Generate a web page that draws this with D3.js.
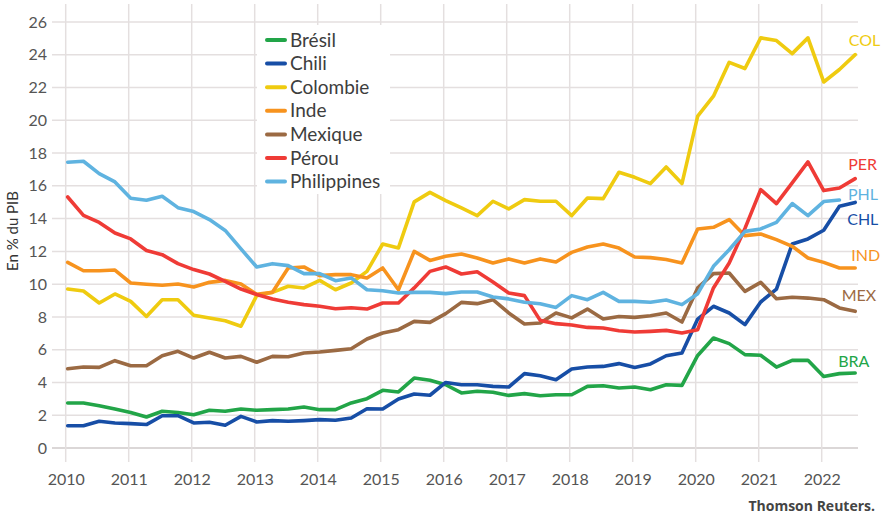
<!DOCTYPE html>
<html>
<head>
<meta charset="utf-8">
<script src="https://cdn.jsdelivr.net/npm/d3@7"></script>
<style>
body { margin: 0; background: #fff; }
#chart { width: 883px; height: 516px; }
text { font-family: Lato, "Open Sans", sans-serif; }
</style>
</head>
<body>
<div id="chart"></div>
<script>
// quarterly data, 2010 T1 -> 2022 T3 (en % du PIB)
var years = [2010, 2011, 2012, 2013, 2014, 2015, 2016, 2017, 2018, 2019, 2020, 2021, 2022];
var yTicks = [0, 2, 4, 6, 8, 10, 12, 14, 16, 18, 20, 22, 24, 26];
var countries = ["Brésil", "Chili", "Colombie", "Inde", "Mexique", "Pérou", "Philippines"];
var codes = ["BRA", "CHL", "COL", "IND", "MEX", "PER", "PHL"];
var colors = ["#22a548", "#174ea6", "#efcb10", "#f7931e", "#9b6a43", "#ef3b36", "#5fb3e0"];

var bresil = [2.75, 2.75, 2.58, 2.38, 2.17, 1.89, 2.24, 2.17, 2.03, 2.3,
    2.24, 2.38, 2.3, 2.34, 2.38, 2.5, 2.34, 2.34, 2.75, 3.01,
    3.52, 3.42, 4.27, 4.13, 3.86, 3.36, 3.46, 3.4, 3.21, 3.32,
    3.19, 3.25, 3.25, 3.76, 3.8, 3.66, 3.72, 3.56, 3.86, 3.82,
    5.65, 6.71, 6.37, 5.7, 5.66, 4.94, 5.35, 5.35, 4.37, 4.54, 4.58];
var chili = [1.36, 1.36, 1.63, 1.53, 1.49, 1.43, 1.97, 1.97, 1.53, 1.57,
    1.39, 1.93, 1.59, 1.67, 1.63, 1.67, 1.73, 1.69, 1.83, 2.4,
    2.38, 2.99, 3.3, 3.22, 4.0, 3.86, 3.86, 3.76, 3.72, 4.54,
    4.41, 4.17, 4.82, 4.94, 4.98, 5.15, 4.92, 5.13, 5.63, 5.8,
    7.87, 8.65, 8.24, 7.53, 8.91, 9.7, 12.45, 12.76, 13.29, 14.75, 14.99];
var colombie = [9.7, 9.58, 8.85, 9.4, 8.95, 8.03, 9.05, 9.05, 8.1, 7.94,
    7.77, 7.43, 9.3, 9.5, 9.87, 9.77, 10.23, 9.66, 10.07, 10.78,
    12.45, 12.21, 15.02, 15.6, 15.1, 14.65, 14.18, 15.06, 14.59, 15.16,
    15.06, 15.06, 14.18, 15.26, 15.22, 16.83, 16.52, 16.14, 17.15, 16.14,
    20.25, 21.47, 23.54, 23.16, 25.03, 24.87, 24.07, 25.03, 22.34, 23.1, 24.01];
var inde = [11.33, 10.82, 10.82, 10.86, 10.07, 9.99, 9.93, 10.01, 9.83, 10.11,
    10.23, 10.01, 9.38, 9.5, 10.99, 11.05, 10.52, 10.58, 10.58, 10.38,
    10.99, 9.66, 12.0, 11.45, 11.7, 11.84, 11.6, 11.29, 11.54, 11.29,
    11.54, 11.35, 11.94, 12.27, 12.45, 12.2, 11.66, 11.62, 11.5, 11.29,
    13.37, 13.47, 13.94, 12.96, 13.06, 12.72, 12.31, 11.6, 11.33, 10.99, 10.99];
var mexique = [4.84, 4.94, 4.92, 5.33, 5.02, 5.02, 5.63, 5.9, 5.49, 5.84,
    5.49, 5.59, 5.23, 5.59, 5.57, 5.8, 5.86, 5.96, 6.06, 6.65,
    7.02, 7.22, 7.73, 7.67, 8.2, 8.89, 8.81, 9.05, 8.24, 7.57,
    7.63, 8.24, 7.94, 8.48, 7.87, 8.03, 7.97, 8.07, 8.24, 7.69,
    9.77, 10.64, 10.68, 9.56, 10.11, 9.11, 9.2, 9.15, 9.05, 8.55, 8.34];
var perou = [15.32, 14.2, 13.77, 13.12, 12.76, 12.05, 11.8, 11.25, 10.89, 10.62,
    10.17, 9.7, 9.37, 9.1, 8.9, 8.75, 8.65, 8.5, 8.56, 8.48,
    8.85, 8.85, 9.77, 10.78, 11.05, 10.62, 10.76, 10.13, 9.46, 9.3,
    7.79, 7.59, 7.51, 7.36, 7.32, 7.16, 7.08, 7.12, 7.18, 7.02,
    7.22, 9.77, 11.29, 13.4, 15.77, 14.92, 16.18, 17.46, 15.71, 15.87, 16.44];
var philippines = [17.44, 17.5, 16.75, 16.24, 15.24, 15.12, 15.36, 14.67, 14.43, 13.94,
    13.28, 12.15, 11.05, 11.25, 11.13, 10.64, 10.64, 10.21, 10.38, 9.66,
    9.6, 9.46, 9.5, 9.5, 9.42, 9.52, 9.52, 9.22, 9.1, 8.9,
    8.8, 8.58, 9.3, 9.05, 9.5, 8.95, 8.95, 8.9, 9.03, 8.75,
    9.42, 11.09, 12.1, 13.22, 13.37, 13.77, 14.92, 14.18, 15.04, 15.14];

var seriesValues = [bresil, chili, colombie, inde, mexique, perou, philippines];

// label nudges (px) from the last point of each line
var labelDx = [-17, -8, -6.5, -4, -13.5, -7, 8.5];
var labelDy = [-12, 17, -14, -13, -16, -14, -6];

// set the dimensions and margins of the graph
var margin = {top: 22, right: 25, bottom: 68, left: 52},
    width = 883 - margin.left - margin.right,
    height = 516 - margin.top - margin.bottom;

// set the ranges
var x = d3.scaleLinear().domain([2010, 2022.5]).range([15.7, 803.2]);
var y = d3.scaleLinear().domain([0, 26]).range([height, 0]);

var svg = d3.select("#chart").append("svg")
    .attr("width", width + margin.left + margin.right)
    .attr("height", height + margin.top + margin.bottom)
    .append("g")
    .attr("transform",
        "translate(" + margin.left + "," + margin.top + ")");

// grid lines
svg.selectAll(".hgrid")
    .data(yTicks)
    .enter().append("line")
    .attr("x1", 0).attr("x2", width)
    .attr("y1", function(d) { return y(d); })
    .attr("y2", function(d) { return y(d); })
    .style("stroke", function(d) { return d === 0 ? "#cfcaca" : "#e4dfdf"; })
    .style("stroke-width", 1.5);

svg.selectAll(".vgrid")
    .data(years)
    .enter().append("line")
    .attr("x1", function(d) { return x(d) - 2; })
    .attr("x2", function(d) { return x(d) - 2; })
    .attr("y1", -18).attr("y2", height + 14)
    .style("stroke", "#e4dfdf")
    .style("stroke-width", 1.5);

// Add the Y Axis
var yAxis = svg.append("g")
    .call(d3.axisLeft(y).tickValues(yTicks).tickSize(0).tickPadding(5));
yAxis.select(".domain").remove();
yAxis.selectAll("text")
    .style("font-family", "Lato, sans-serif")
    .style("font-size", "16px")
    .style("fill", "#555");

// Add the X Axis
var xAxis = svg.append("g")
    .attr("transform", "translate(-2," + (height + 23) + ")")
    .call(d3.axisBottom(x).tickValues(years).tickFormat(d3.format("d")).tickSize(0));
xAxis.select(".domain").remove();
xAxis.selectAll("text")
    .style("font-family", "Lato, sans-serif")
    .style("font-size", "16px")
    .style("fill", "#555");

// y axis title
svg.append("text")
    .attr("transform", "rotate(-90)")
    .attr("x", -(231 - margin.top))
    .attr("y", -margin.left + 13)
    .attr("dy", "0.35em")
    .style("text-anchor", "middle")
    .style("font-size", "15px")
    .style("fill", "#333")
    .text("En % du PIB");

// define the line
var valueline = d3.line()
    .x(function(d, i) { return x(2010 + i / 4); })
    .y(function(d) { return y(d); });

// Add the lines
seriesValues.forEach(function(vals, k) {
    svg.append("path")
        .data([vals])
        .attr("d", valueline)
        .style("fill", "none")
        .style("stroke", colors[k])
        .style("stroke-width", 3.6)
        .style("stroke-linejoin", "round")
        .style("stroke-linecap", "round");

    var last = vals.length - 1;
    svg.append("text")
        .attr("x", x(2010 + last / 4) + labelDx[k])
        .attr("y", y(vals[last]) + labelDy[k])
        .attr("dy", "0.35em")
        .style("font-size", "16px")
        .style("fill", colors[k])
        .text(codes[k]);
});

// legend
var legend = svg.append("g")
    .attr("transform", "translate(" + (257 - margin.left) + "," + (25 - margin.top) + ")");

legend.append("rect")
    .attr("width", 133)
    .attr("height", 169)
    .style("fill", "#fff");

countries.forEach(function(name, k) {
    var ly = 15 + k * 23.6;
    legend.append("line")
        .attr("x1", 10).attr("x2", 28)
        .attr("y1", ly).attr("y2", ly)
        .style("stroke", colors[k])
        .style("stroke-width", 4)
        .style("stroke-linecap", "round");
    legend.append("text")
        .attr("x", 33)
        .attr("y", ly)
        .attr("dy", "0.35em")
        .style("font-size", "19px")
        .style("fill", "#3d3d3d")
        .text(name);
});

// source
svg.append("text")
    .attr("x", 875 - margin.left)
    .attr("y", 511 - margin.top)
    .style("text-anchor", "end")
    .style("font-family", "'Open Sans', sans-serif")
    .style("font-size", "14px")
    .style("font-weight", "bold")
    .style("fill", "#444")
    .text("Thomson Reuters.");
</script>
</body>
</html>
